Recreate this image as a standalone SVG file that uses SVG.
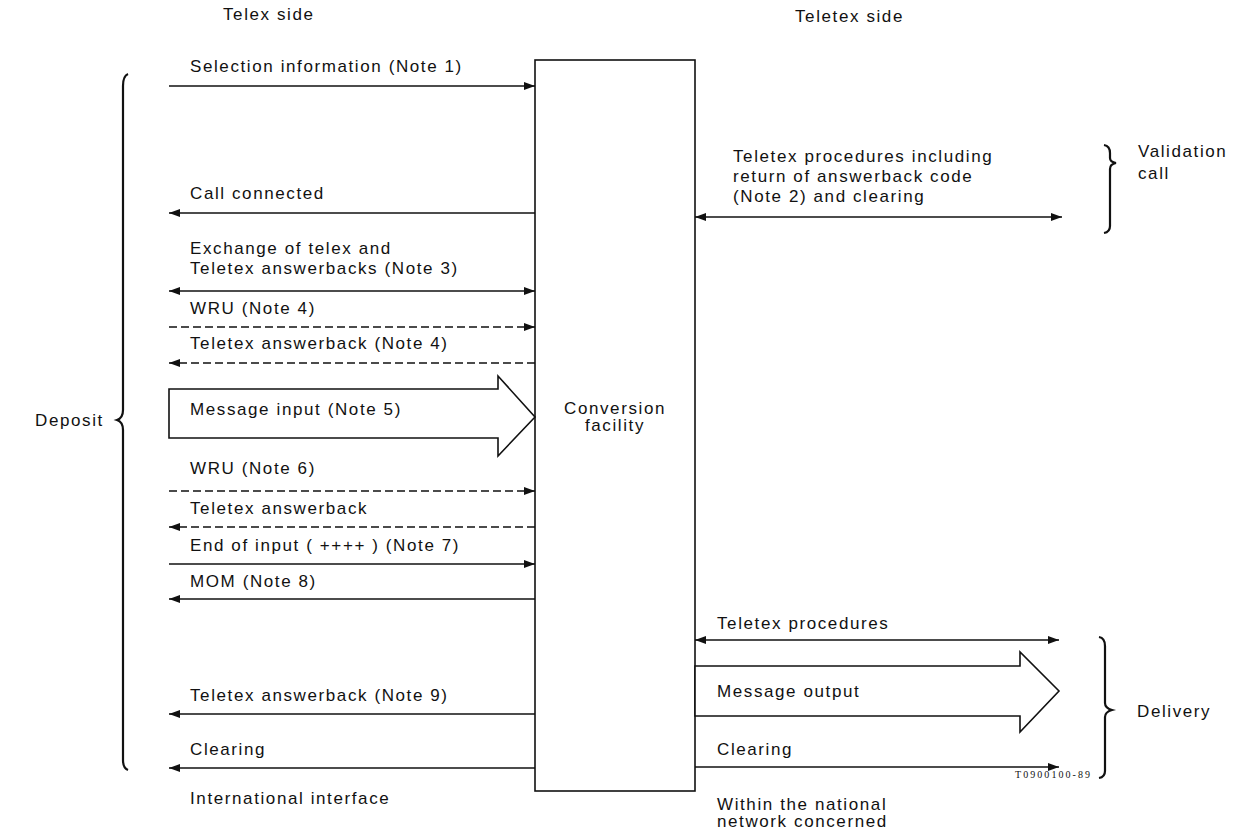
<svg xmlns="http://www.w3.org/2000/svg" width="1236" height="833" viewBox="0 0 1236 833">
<style>
text{font-family:"Liberation Sans",Arial,sans-serif;font-size:17px;letter-spacing:1.6px;fill:#111}
.ln{stroke:#111;stroke-width:1.6;fill:none}
.d{stroke-dasharray:8 4}
.blk{stroke:#111;stroke-width:1.6;fill:#fff}
.br{stroke:#111;stroke-width:2.2;fill:none}
</style>
<defs>
<marker id="ah" markerUnits="userSpaceOnUse" markerWidth="12" markerHeight="10" refX="11" refY="4" orient="auto-start-reverse"><path d="M0,0 L11,4 L0,8 z" fill="#111"/></marker>
</defs>
<rect width="1236" height="833" fill="#fff"/>
<text x="223" y="20">Telex side</text>
<text x="795" y="22">Teletex side</text>
<g id="conversion">
<rect x="535" y="60" width="160" height="731" class="blk"/>
<text x="615" y="414" text-anchor="middle">Conversion</text>
<text x="615" y="431" text-anchor="middle">facility</text>
</g>
<g id="deposit">
<path class="br" d="M128,74 Q123,76 123,86 L123,410 Q123,418 117,420 Q123,422 123,430 L123,760 Q123,768 128,770"/>
<text x="35" y="426">Deposit</text>
</g>
<g id="validation">
<path class="br" d="M1104,145 Q1110,146 1110,153 L1110,158 Q1110,162 1116,163 Q1110,164 1110,169 L1110,226 Q1110,232 1104,233"/>
<text x="1138" y="157">Validation</text>
<text x="1138" y="179">call</text>
</g>
<g id="delivery">
<path class="br" d="M1099,637 Q1105,638 1105,646 L1105,703 Q1105,708 1112,710 Q1105,712 1105,717 L1105,771 Q1105,777 1099,778"/>
<text x="1137" y="717">Delivery</text>
</g>
<g id="connectors">
<line class="ln" x1="169" y1="86" x2="535" y2="86" marker-end="url(#ah)"/>
<line class="ln" x1="535" y1="213" x2="169" y2="213" marker-end="url(#ah)"/>
<line class="ln" x1="169" y1="291" x2="535" y2="291" marker-start="url(#ah)" marker-end="url(#ah)"/>
<line class="ln d" x1="169" y1="327" x2="535" y2="327" marker-end="url(#ah)"/>
<line class="ln d" x1="535" y1="363" x2="169" y2="363" marker-end="url(#ah)"/>
<path class="blk" d="M169,389 L498,389 L498,376 L535,417 L498,456 L498,438 L169,438 Z"/>
<line class="ln d" x1="169" y1="491" x2="535" y2="491" marker-end="url(#ah)"/>
<line class="ln d" x1="535" y1="527" x2="169" y2="527" marker-end="url(#ah)"/>
<line class="ln" x1="169" y1="564" x2="535" y2="564" marker-end="url(#ah)"/>
<line class="ln" x1="535" y1="599" x2="169" y2="599" marker-end="url(#ah)"/>
<line class="ln" x1="535" y1="714" x2="169" y2="714" marker-end="url(#ah)"/>
<line class="ln" x1="535" y1="768" x2="169" y2="768" marker-end="url(#ah)"/>
<line class="ln" x1="695" y1="217" x2="1062" y2="217" marker-start="url(#ah)" marker-end="url(#ah)"/>
<line class="ln" x1="695" y1="640" x2="1059" y2="640" marker-start="url(#ah)" marker-end="url(#ah)"/>
<path class="blk" d="M695,666 L1020,666 L1020,652 L1059,691 L1020,732 L1020,716 L695,716 Z"/>
<line class="ln" x1="695" y1="767" x2="1059" y2="767" marker-end="url(#ah)"/>
</g>
<g id="labels">
<text x="190" y="72">Selection information (Note 1)</text>
<text x="190" y="199">Call connected</text>
<text x="190" y="254">Exchange of telex and</text>
<text x="190" y="274">Teletex answerbacks (Note 3)</text>
<text x="190" y="314">WRU (Note 4)</text>
<text x="190" y="349">Teletex answerback (Note 4)</text>
<text x="190" y="415">Message input (Note 5)</text>
<text x="190" y="474">WRU (Note 6)</text>
<text x="190" y="514">Teletex answerback</text>
<text x="190" y="551">End of input ( ++++ ) (Note 7)</text>
<text x="190" y="587">MOM (Note 8)</text>
<text x="190" y="701">Teletex answerback (Note 9)</text>
<text x="190" y="755">Clearing</text>
<text x="190" y="804">International interface</text>
<text x="733" y="162">Teletex procedures including</text>
<text x="733" y="182">return of answerback code</text>
<text x="733" y="202">(Note 2) and clearing</text>
<text x="717" y="629">Teletex procedures</text>
<text x="717" y="697">Message output</text>
<text x="717" y="755">Clearing</text>
<text x="717" y="810">Within the national</text>
<text x="717" y="827">network concerned</text>
<text x="1015" y="778" style="font-family:'Liberation Serif',serif;font-size:10px;letter-spacing:0" textLength="75">T0900100-89</text>
</g>
</svg>
